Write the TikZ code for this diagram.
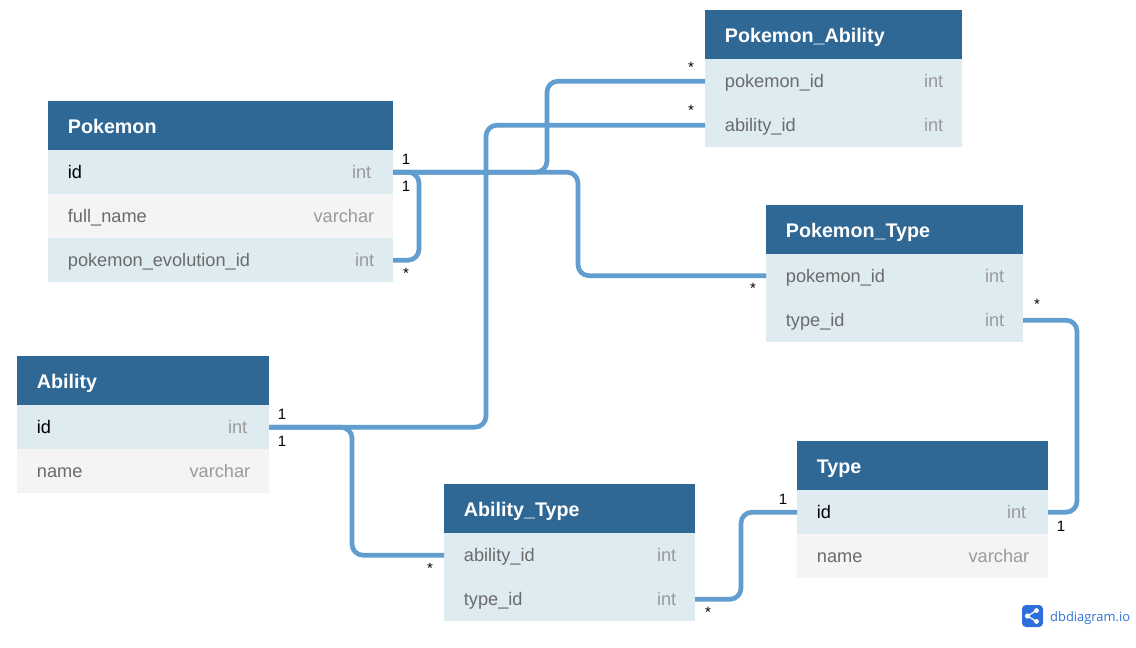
\documentclass[tikz,border=0pt]{standalone}
\usepackage{fontspec}
\setmainfont{Liberation Sans}
\newfontfamily\logofont{Open Sans}
\definecolor{hdr}{HTML}{306895}
\definecolor{rowa}{HTML}{DEECF2}
\definecolor{rowb}{HTML}{F4F4F4}
\definecolor{rel}{HTML}{629DCF}
\definecolor{nameclr}{HTML}{6B6B6B}
\definecolor{typeclr}{HTML}{9A9A9A}
\definecolor{logoclr}{HTML}{2F6FDB}
\tikzset{
  cell/.style={draw=none,inner sep=0pt,outer sep=0pt,anchor=north west},
  colname/.style={anchor=base west,inner sep=0pt,font=\fontsize{18.2}{20}\selectfont},
  coltype/.style={anchor=base east,inner sep=0pt,text=typeclr,font=\fontsize{18.2}{20}\selectfont},
  title/.style={anchor=base west,inner sep=0pt,text=white,font=\fontsize{19.7}{22}\selectfont\bfseries},
  relline/.style={draw=rel,line width=4.7pt,rounded corners=11pt},
  card/.style={inner sep=0pt,anchor=base,text=black,font=\fontsize{15}{17}\selectfont},
}
% name, x, y, width, height, title
\newcommand{\tblhead}[6]{%
  \node[cell,fill=hdr,minimum width=#4pt,minimum height=#5pt] (#1) at (#2,#3) {};
  \node[title] (#1t) at (#2+19.7,#3+32.2) {#6};
}
% [type offset], name, x, y, width, fill, label, type, label colour
\newcommand{\trow}[9][18.5]{%
  \node[cell,fill=#6,minimum width=#5pt,minimum height=44.4pt] (#2) at (#3,#4) {};
  \node[colname,text=#9] (#2n) at (#3+19.7,#4+28.7) {#7};
  \node[coltype] (#2y) at (#3+#5-#1,#4+28.7) {#8};
}
\begin{document}
\begin{tikzpicture}[x=1pt,y=-1pt]
\useasboundingbox (0,0) rectangle (1136,648);
% Pokemon
\tblhead{pk}{48}{101}{345}{49}{Pokemon}
\trow[21.5]{pkid}{48}{150}{345}{rowa}{id}{int}{black}
\trow{pkfn}{48}{194}{345}{rowb}{full\_name}{varchar}{nameclr}
\trow{pkev}{48}{238}{345}{rowa}{pokemon\_evolution\_id}{int}{nameclr}
% Pokemon_Ability
\tblhead{pa}{705}{10}{257}{49}{Pokemon\_Ability}
\trow{papk}{705}{59}{257}{rowa}{pokemon\_id}{int}{nameclr}
\trow{paab}{705}{103}{257}{rowa}{ability\_id}{int}{nameclr}
% Pokemon_Type
\tblhead{pt}{766}{205}{257}{49}{Pokemon\_Type}
\trow{ptpk}{766}{253.5}{257}{rowa}{pokemon\_id}{int}{nameclr}
\trow{ptty}{766}{298}{257}{rowa}{type\_id}{int}{nameclr}
% Ability
\tblhead{ab}{17}{356}{252}{49}{Ability}
\trow[21.5]{abid}{17}{405}{252}{rowa}{id}{int}{black}
\trow{abnm}{17}{449}{252}{rowb}{name}{varchar}{nameclr}
% Ability_Type
\tblhead{at}{444}{484}{251}{49}{Ability\_Type}
\trow{atab}{444}{533}{251}{rowa}{ability\_id}{int}{nameclr}
\trow{atty}{444}{577}{251}{rowa}{type\_id}{int}{nameclr}
% Type
\tblhead{ty}{797}{441}{251}{49}{Type}
\trow[21.5]{tyid}{797}{490}{251}{rowa}{id}{int}{black}
\trow{tynm}{797}{534}{251}{rowb}{name}{varchar}{nameclr}
% connectors
\draw[relline] (pkid.east) -| (419,216) |- (pkev.east);
\draw[relline] (pkid.east) -| (578,220) |- (ptpk.west);
\draw[relline] (pkid.east) -| (547,120) |- (papk.west);
\draw[relline] (abid.east) -| (486,270) |- (paab.west);
\draw[relline] (abid.east) -| (352,490) |- (atab.west);
\draw[relline] (atty.east) -| (741,555) |- (tyid.west);
\draw[relline] (ptty.east) -| (1077,415) |- (tyid.east);
% cardinalities
\node[card] (c1) at (406,164) {1};
\node[card] (c2) at (406,191) {1};
\node[card] (c3) at (406,278) {*};
\node[card] (c4) at (691,72) {*};
\node[card] (c5) at (691,115) {*};
\node[card] (c6) at (753,293) {*};
\node[card] (c7) at (1037,309) {*};
\node[card] (c8) at (282,419) {1};
\node[card] (c9) at (282,446) {1};
\node[card] (c10) at (430,573) {*};
\node[card] (c11) at (783,504) {1};
\node[card] (c12) at (708,617) {*};
\node[card] (c13) at (1061,531) {1};
% logo
\node[cell,fill=logoclr,rounded corners=4pt,minimum width=21pt,minimum height=22pt] (logo) at (1022,605) {};
\draw[white,line width=1.3pt] (1027.5,616) -- (1036.5,610.5) (1027.5,616) -- (1036.5,621.5);
\fill[white] (1027.5,616) circle (2.6pt) (1036.5,610.5) circle (2.4pt) (1036.5,621.5) circle (2.4pt);
\node[anchor=base west,inner sep=0pt,text=logoclr,font=\logofont\fontsize{12.9}{16}\selectfont] (logot) at (1050,621) {dbdiagram.io};
\end{tikzpicture}
\end{document}
